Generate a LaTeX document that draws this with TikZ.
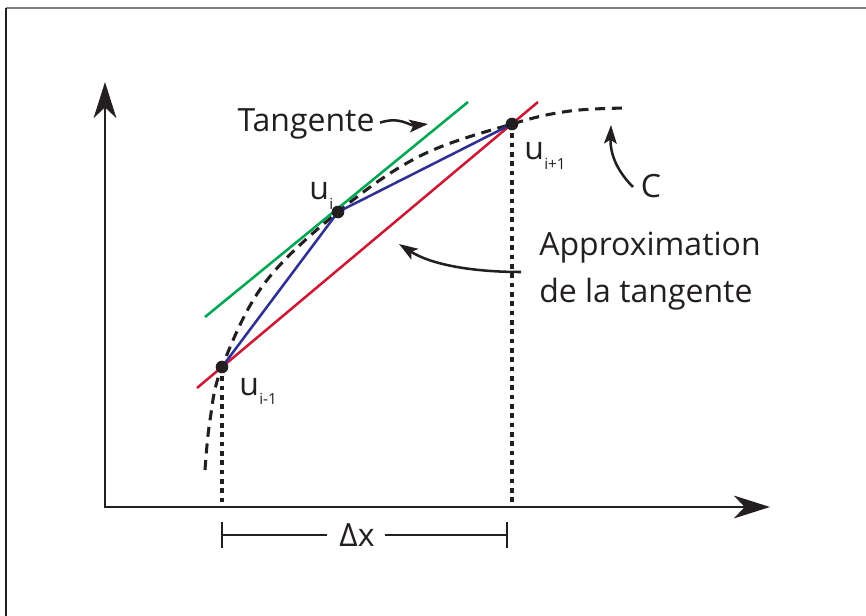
\documentclass[tikz,border=0pt]{standalone}
\usepackage{fontspec}
\setmainfont{Open Sans}
\usetikzlibrary{arrows.meta}
\definecolor{tgreen}{RGB}{0,166,81}
\definecolor{tred}{RGB}{204,24,52}
\definecolor{tblue}{RGB}{46,49,146}
\definecolor{ink}{RGB}{35,31,32}
\newcommand\usublabel[1]{u\kern0.3pt\raisebox{-0.55ex}{\fontsize{11.5}{11.5}\selectfont #1}}
\begin{document}
\begin{tikzpicture}[x=0.75pt,y=-0.75pt,
  axis/.style={ink, line width=2.2pt, {Stealth[length=27pt,width=17pt,inset=8pt]}-{Stealth[length=27pt,width=17pt,inset=8pt]}},
  curvec/.style={ink, line width=2.3pt, dash pattern=on 7.5pt off 5pt},
  guide/.style={ink, line width=2.6pt, dash pattern=on 3.6pt off 3.4pt},
  tline/.style={line width=1.9pt},
  note/.style={ink, line width=1.9pt, -{Stealth[length=14pt,width=9.5pt,inset=3pt]}},
  lab/.style={ink, font=\fontsize{24}{35}\selectfont, inner sep=0pt},
  dot/.style={circle, fill=ink, inner sep=0pt, minimum size=9.5pt},
  brk/.style={ink, line width=1.6pt}]
\useasboundingbox (0,0) rectangle (866,616);
% frame
\draw[gray, line width=1.5pt] (6,8.5) -- (866,8.5);
\draw[ink, line width=1.1pt] (6,8) -- (6,616);
% axes
\coordinate (O) at (105,507);
\coordinate (Ytop) at (105,82);
\coordinate (Xend) at (770,507);
\draw[axis] (Ytop) -- (O) -- (Xend);
% points
\coordinate (um) at (222,367);
\coordinate (ui) at (338,212);
\coordinate (up) at (512,124);
\coordinate (umx) at (222,507);
\coordinate (upx) at (512,507);
% guides
\draw[guide] (um) -- (umx);
\draw[guide] (up) -- (upx);
% curve C
\coordinate (c0) at (205,470);
\coordinate (c9) at (628,108);
\draw[curvec] plot[smooth, tension=0.6] coordinates {(c0) (210,420) (um) (264,284) (ui) (420,156) (up) (570,111) (c9)};
% tangent and approximations
\coordinate (g1) at (205,317);
\coordinate (g2) at (468,102);
\draw[tline, tgreen] (g1) -- (g2);
\coordinate (r1) at (197,388);
\coordinate (r2) at (538,102);
\draw[tline, tred] (r1) -- (r2);
\draw[tline, tblue, line join=round] (um) -- (ui) -- (up);
% dots
\node[dot] (Pm) at (um) {};
\node[dot] (Pi) at (ui) {};
\node[dot] (Pp) at (up) {};
% labels
\node[lab] (tang) at (306,124) {Tangente};
\coordinate (tangtip) at (428,124);
\draw[note] (tang.east) ++(4pt,1pt) .. controls (400,116) and (410,126) .. (tangtip);
\node[lab, anchor=base west] (lui) at (309,200) {\usublabel{i}};
\node[lab, anchor=base west] (lup) at (524,160) {\usublabel{i+1}};
\node[lab, anchor=base west] (lum) at (239,395) {\usublabel{i-1}};
\node[lab] (cl) at (651,186) {C};
\coordinate (ctip) at (611,125);
\draw[note] (633,187) .. controls (618,172) and (610,155) .. (ctip);
\node[lab, align=left, anchor=west] (appr) at (539,271) {Approximation\\de la tangente};
\coordinate (atip) at (399,244);
\draw[note] (521,272) .. controls (470,272) and (430,264) .. (atip);
% delta x
\node[lab] (dx) at (357,535) {Δx};
\coordinate (b1t) at (222,522);
\coordinate (b1b) at (222,548);
\coordinate (b1m) at (222,535);
\coordinate (b2t) at (507,522);
\coordinate (b2b) at (507,548);
\coordinate (b2m) at (507,535);
\draw[brk] (b1t) -- (b1b);
\draw[brk] (b2t) -- (b2b);
\draw[brk] (b1m) -- ([xshift=-9pt]dx.west);
\draw[brk] ([xshift=8pt]dx.east) -- (b2m);
\end{tikzpicture}
\end{document}
